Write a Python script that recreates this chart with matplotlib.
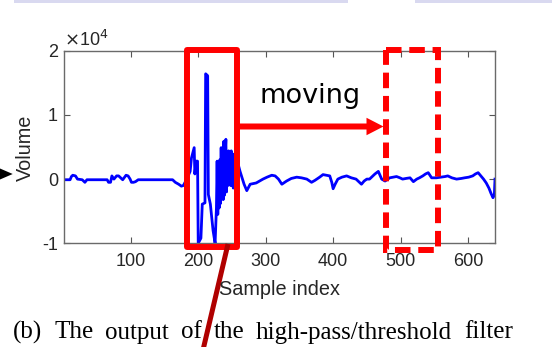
import matplotlib
matplotlib.use("Agg")
import matplotlib.pyplot as plt
import numpy as np
from matplotlib.patches import Polygon, Rectangle, FancyArrow

# ---- data (sample index, volume in units of 1e4) ----
sample_idx = [1, 10, 12, 14, 18, 21, 28, 32, 35, 65,
              67, 70, 72, 75, 79, 82, 85, 88, 93, 96,
              99, 101, 104, 107, 111, 162, 166, 171, 175, 178,
              183, 188, 190, 194, 195, 197, 199, 200, 204, 206,
              210, 211, 214, 215, 218, 222, 225, 227,
              228, 229, 230, 231, 232, 233, 234, 235, 236, 237,
              238, 239, 240, 241, 242, 243, 244, 245, 246, 247,
              248, 249, 250, 251, 252, 253, 254, 255, 256, 257,
              258, 259, 260,
              262, 265, 268, 272, 277, 286, 296, 302, 309, 314,
              319, 324, 331, 338, 346, 353, 361, 368, 373, 380,
              385, 390, 395, 398, 400, 403, 407, 413, 420, 427,
              434, 438, 442, 446, 450, 454, 459, 462, 467, 472,
              477, 484, 489, 494, 499, 503, 508, 514, 519, 524,
              528, 533, 537, 541, 546, 553, 560, 566, 570, 576,
              583, 590, 595, 601, 607, 611, 615, 619, 623, 627,
              631, 634, 637, 639, 640]
volume_e4 = [-0.01, -0.01, 0.04, 0.06, 0.05, 0.0, -0.01, -0.05, -0.01, -0.01,
             -0.05, -0.05, 0.05, 0.0, 0.05, 0.05, 0.02, -0.01, 0.06, 0.05,
             0.0, -0.05, -0.05, -0.04, -0.01, -0.01, -0.05, -0.08, -0.11, -0.1,
             0.0, 0.12, 0.33, 0.49, 0.08, 0.28, 0.28, -1.0, -0.92, -0.39,
             -0.37, 1.64, 1.61, -0.24, -0.39, -0.8, -1.0, -0.45,
             0.28, -0.55, 0.1, -0.45, 0.3, -0.38, 0.49, -0.3, 0.2, -0.32,
             0.59, -0.25, 0.4, 0.62, -0.2, 0.35, -0.1, 0.44, -0.08, 0.3,
             -0.1, 0.44, -0.1, 0.36, -0.14, 0.39, -0.12, 0.28, -0.05, 0.3,
             0.0, 0.3, 0.2,
             0.12, 0.02, -0.08, -0.18, -0.08, -0.06, 0.0, 0.03, 0.06, 0.05,
             0.0, -0.08, -0.03, 0.01, 0.03, 0.02, 0.0, -0.05, -0.02, 0.03,
             0.07, 0.06, 0.05, -0.05, -0.15, -0.08, 0.0, 0.03, 0.05, 0.02,
             0.0, -0.04, -0.08, -0.03, 0.0, 0.0, 0.05, 0.08, 0.12, 0.0,
             -0.03, 0.02, 0.03, 0.04, 0.02, 0.0, 0.01, 0.02, -0.04, 0.0,
             0.02, 0.05, 0.08, 0.1, 0.02, 0.02, 0.03, 0.04, 0.05, 0.02,
             0.0, 0.01, 0.02, 0.03, 0.05, 0.08, 0.1, 0.05, 0.0, -0.06,
             -0.14, -0.22, -0.29, -0.25, 0.0]
x_ticks = [100, 200, 300, 400, 500, 600]
y_ticks = [-1, 0, 1, 2]
caption_words = ["(b)", "The", "output", "of", "the", "high-pass/threshold", "filter"]

W, H = 552, 347
fig = plt.figure(figsize=(W / 100, H / 100), dpi=100)
fig.patch.set_facecolor("white")

gray = "#262626"
sans = ["Liberation Sans", "DejaVu Sans"]

ax = fig.add_axes([64 / W, 1 - 243.3 / H, (495 - 64) / W, (243.3 - 50.7) / H])
ax.plot(sample_idx, np.array(volume_e4) * 1e4, color=(0, 0, 1), lw=2.0, solid_joinstyle="round")
ax.set_xlim(1, 640)
ax.set_ylim(-1e4, 2e4)
ax.set_xticks(x_ticks)
ax.set_yticks([v * 1e4 for v in y_ticks])
ax.set_xticklabels([str(t) for t in x_ticks], fontsize=13, family=sans, color=gray)
ax.set_yticklabels([str(t) for t in y_ticks], fontsize=13, family=sans, color=gray)
ax.tick_params(direction="in", length=4, width=0.8, color="#555555", top=True, right=True)
ax.tick_params(axis="x", pad=7.3)
ax.tick_params(axis="y", pad=4.3)
for s in ax.spines.values():
    s.set_color("#6a6a6a")
    s.set_linewidth(1.0)

# overlay in pixel coordinates
ov = fig.add_axes([0, 0, 1, 1], zorder=10)
ov.set_xlim(0, W)
ov.set_ylim(H, 0)
ov.axis("off")
ov.patch.set_alpha(0)

ov.text(279.5, 295, "Sample index", fontsize=14.3, family=sans, color=gray,
        ha="center", va="baseline")
ov.text(34.5, 148, "Volume", fontsize=14.3, family=sans, color=gray, rotation=90,
        ha="right", va="center")
ov.text(64, 45.5, r"$\times$10$^4$", fontsize=13, family=sans, color=gray, va="baseline",
        ha="left")

# lavender bars at the top
ov.add_patch(Rectangle((14, 0), 334, 3, color="#d9d9f0", lw=0))
ov.add_patch(Rectangle((415, 0), 140, 3, color="#d9d9f0", lw=0))

# black arrow head at the left
ov.add_patch(Polygon([(0, 168.5), (12.7, 174), (0, 179.5)], closed=True, color="black", lw=0))

# solid red box
ov.add_patch(Polygon([(187, 50.3), (236.7, 50.3), (236.7, 247), (187, 247)], closed=True,
                     fill=False, edgecolor=(1, 0, 0), lw=4.3, joinstyle="round"))
# arrow
ov.add_patch(FancyArrow(239, 126.5, 383.5 - 239, 0, width=6, head_width=17.5,
                        head_length=17, length_includes_head=True, color=(1, 0, 0), lw=0))
ov.text(310.5, 103, "moving", fontsize=19.5, family=["DejaVu Sans"],
        color="black", ha="center", va="baseline")

# dashed red box
ov.add_patch(Rectangle((386, 49.7), 437.5 - 386, 249.7 - 49.7, fill=False,
                       edgecolor=(1, 0, 0), lw=4.3, linestyle=(0, (2.6, 1.3)),
                       joinstyle="miter"))

# caption (justified: words spread between left and right margins)
fig.canvas.draw()
renderer = fig.canvas.get_renderer()
serif = ["Liberation Serif", "DejaVu Serif"]
tmp = [ov.text(0, 0, w, fontsize=18, family=serif) for w in caption_words]
widths = [t.get_window_extent(renderer).width for t in tmp]
for t in tmp:
    t.remove()
left, right = 13.0, 513.0
gap = (right - left - sum(widths)) / (len(caption_words) - 1)
x = left
for w, wd in zip(caption_words, widths):
    ov.text(x, 338.5, w, fontsize=18, family=serif, color="black", ha="left", va="baseline")
    x += wd + gap

# dark red pointer line
ov.plot([228, 203], [244, 350], color="#b00000", lw=3.6, solid_capstyle="butt")

fig.savefig("out.png", dpi=100)
